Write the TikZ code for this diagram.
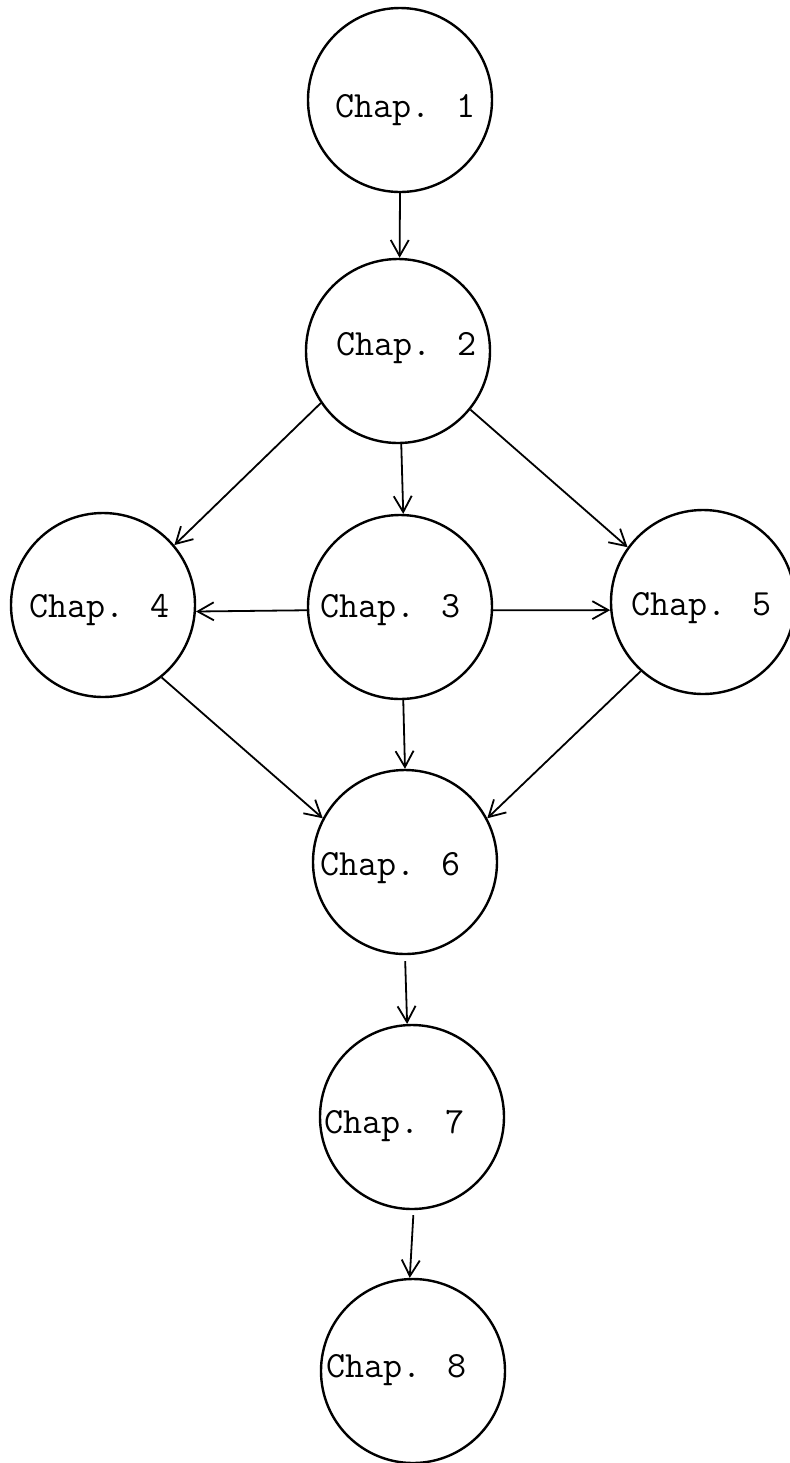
\documentclass[tikz,border=0pt]{standalone}
\usetikzlibrary{arrows.meta}
\begin{document}
\begin{tikzpicture}[x=0.5pt,y=-0.5pt,
  chap/.style={circle,draw,line width=1.2pt,minimum size=92pt,inner sep=0pt},
  lbl/.style={anchor=base west,inner sep=0pt,font=\ttfamily\fontsize{18.5}{20}\selectfont},
  conn/.style={line width=0.9pt,-{Straight Barb[length=8pt,width=9pt,line width=0.9pt]}}]
\useasboundingbox (0,0) rectangle (789,1463);
\node[chap] (c1) at (400,100) {};
\node[chap] (c2) at (398,351) {};
\node[chap] (c3) at (400,607) {};
\node[chap] (c4) at (103,605) {};
\node[chap] (c5) at (703,602) {};
\node[chap] (c6) at (405,862) {};
\node[chap] (c7) at (412,1117) {};
\node[chap] (c8) at (413,1371) {};
\node[lbl] (t1) at (335,117) {Chap. 1};
\node[lbl] (t2) at (336,355) {Chap. 2};
\node[lbl] (t3) at (320,617) {Chap. 3};
\node[lbl] (t4) at (29,617) {Chap. 4};
\node[lbl] (t5) at (631,615) {Chap. 5};
\node[lbl] (t6) at (320,875) {Chap. 6};
\node[lbl] (t7) at (324,1133) {Chap. 7};
\node[lbl] (t8) at (326,1377) {Chap. 8};
\draw[conn] (c1.270) -- (c2.89);
\draw[conn] (c2.272) -- (c3.88);
\draw[conn] (c2.214) -- (c4.40);
\draw[conn] (c2.321) -- (c5.144);
\draw[conn] (c3.182) -- (c4.356);
\draw[conn] (c3.358) -- (c5.185);
\draw[conn] (c3.272) -- (c6.90);
\draw[conn] (c4.309) -- (c6.152);
\draw[conn] (c5.228) -- (c6.28);
\draw[conn,shorten <=3pt] (c6.270) -- (c7.93);
\draw[conn,shorten <=2.5pt] (c7.271) -- (c8.92);
\end{tikzpicture}
\end{document}
